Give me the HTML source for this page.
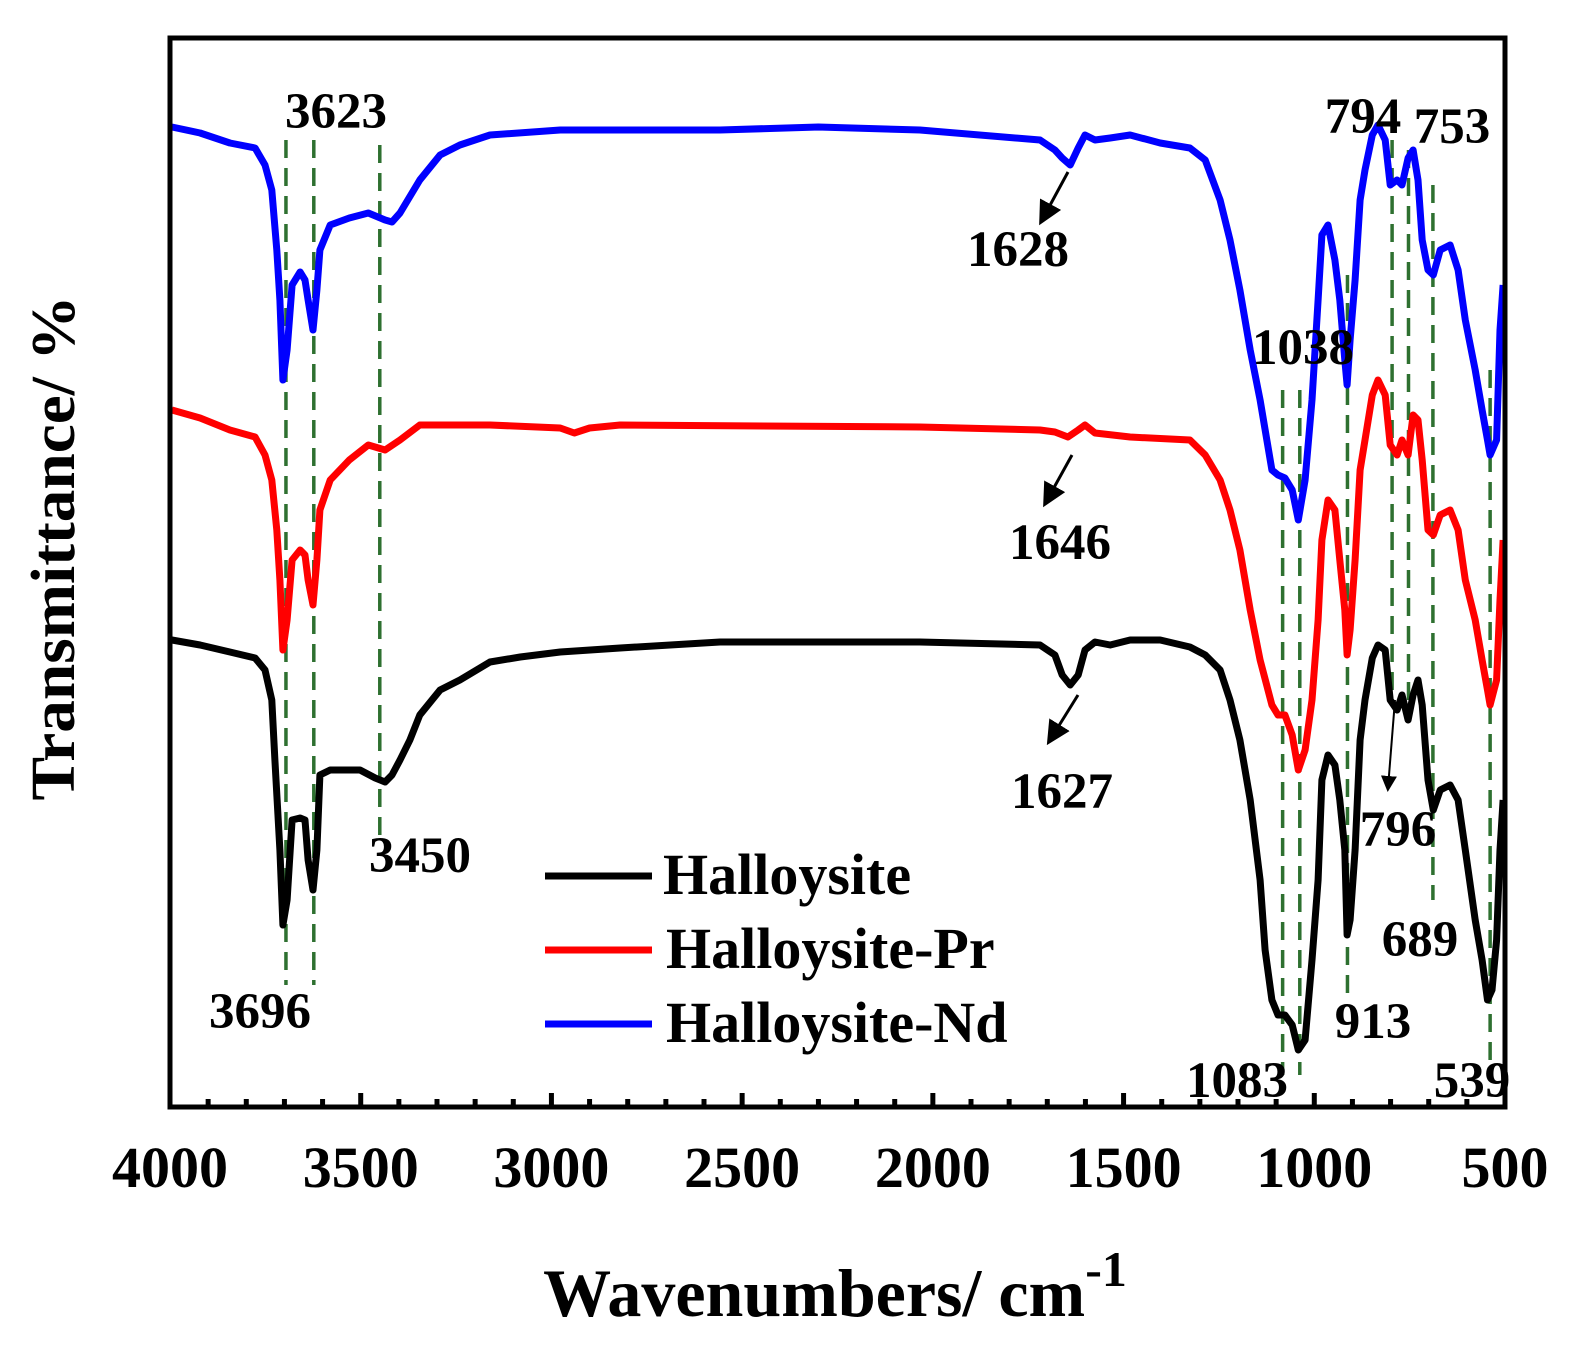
<!DOCTYPE html>
<html><head><meta charset="utf-8"><style>
html,body{margin:0;padding:0;background:#fff;}
svg{display:block;font-family:"Liberation Serif",serif;font-weight:bold;}
</style></head><body>
<svg id="chart" width="1593" height="1371" viewBox="0 0 1593 1371" xmlns="http://www.w3.org/2000/svg">
<defs><marker id="ah" markerWidth="8" markerHeight="8" refX="6" refY="4" orient="auto"><path d="M0,0 L8,4 L0,8 z" fill="#000"/></marker></defs>
<g id="guides"></g>
<g id="series"></g>
<rect x="170" y="38" width="1335" height="1069" fill="none" stroke="#000" stroke-width="5"/>
<g id="ticks"></g>
<g id="annot" font-size="51"></g>
<text transform="translate(74,548) rotate(-90)" text-anchor="middle" font-size="62" textLength="505" lengthAdjust="spacingAndGlyphs">Transmittance/ %</text>
<text x="835" y="1316" text-anchor="middle" font-size="68">Wavenumbers/ cm<tspan dy="-30" font-size="50">-1</tspan></text>
<g font-size="58">
<line x1="545" y1="876" x2="652" y2="876" stroke="#000" stroke-width="7"/>
<text x="663" y="894">Halloysite</text>
<line x1="545" y1="950" x2="652" y2="950" stroke="#ff0000" stroke-width="7"/>
<text x="666" y="968">Halloysite-Pr</text>
<line x1="545" y1="1024" x2="652" y2="1024" stroke="#0000ff" stroke-width="7"/>
<text x="666" y="1042">Halloysite-Nd</text>
</g>
</svg>
<script>
const blackW=[3995,3921,3843,3777,3751,3733,3725,3712,3704,3693,3680,3659,3646,3638,3625,3615,3607,3580,3502,3462,3436,3418,3397,3371,3345,3292,3240,3161,3082,2977,2820,2558,2034,1719,1680,1661,1640,1619,1601,1575,1535,1483,1404,1326,1286,1247,1221,1195,1168,1142,1129,1111,1095,1077,1058,1042,1024,1006,990,980,964,946,933,920,914,906,893,880,867,848,833,814,801,783,770,754,741,728,717,702,688,670,644,623,604,578,560,546,534,522,513,505];
const blackT=[467,462,455,449,437,407,347,257,182,207,287,289,287,247,217,257,332,337,337,329,325,332,347,367,392,417,427,445,450,455,459,465,465,462,452,432,422,432,457,465,462,467,467,460,452,437,407,367,307,227,157,107,92,92,82,57,67,147,227,327,352,342,307,257,172,187,257,367,407,449,462,457,407,397,412,387,412,427,402,327,297,317,322,307,257,187,147,107,117,167,257,307];
const redW=[3995,3921,3843,3777,3751,3733,3720,3712,3704,3693,3680,3659,3646,3638,3625,3615,3607,3580,3530,3480,3436,3397,3345,3161,2977,2940,2900,2820,2034,1719,1680,1646,1619,1601,1575,1483,1326,1286,1247,1221,1195,1168,1142,1111,1095,1077,1058,1042,1024,1006,990,980,964,946,933,920,914,906,893,880,867,848,833,814,801,783,770,754,741,728,717,702,688,670,644,623,604,578,560,546,539,522,513,505];
const redT=[697,689,677,670,652,627,577,527,457,487,547,557,552,527,502,547,597,627,647,662,657,667,682,682,679,674,679,682,680,677,675,670,677,682,674,670,667,652,627,597,557,497,447,402,392,392,372,337,357,407,487,567,607,597,547,497,452,477,547,637,667,712,727,712,662,652,667,652,692,687,647,577,572,592,597,577,527,487,447,417,402,427,507,567];
const blueW=[3995,3921,3843,3777,3751,3733,3720,3712,3704,3693,3680,3659,3646,3638,3625,3615,3607,3580,3530,3480,3436,3418,3397,3345,3292,3240,3161,2977,2558,2300,2034,1719,1680,1661,1640,1619,1601,1575,1535,1483,1404,1326,1286,1247,1221,1195,1168,1142,1111,1095,1077,1058,1042,1024,1006,990,980,964,946,933,920,914,906,893,880,867,848,833,814,801,783,770,754,741,728,717,702,688,670,644,623,604,578,560,546,539,522,513,505];
const blueT=[980,974,964,959,942,917,857,807,727,757,822,835,827,807,777,817,857,882,889,894,887,885,894,927,952,962,972,977,977,980,977,967,957,949,942,959,972,967,969,972,964,959,947,907,867,817,757,707,637,632,629,617,587,627,707,807,872,882,847,807,747,722,767,827,907,937,972,982,967,922,927,922,949,957,927,867,837,832,857,862,837,787,737,697,667,652,667,777,822];
const xTicks=[4000,3500,3000,2500,2000,1500,1000,500];
const peakW=[3696,3623,3450,1083,1038,913,796,753,689,539];
const peakTop=[140,140,145,390,390,275,140,150,185,370];
const peakBot=[985,985,840,1075,1075,1000,700,720,900,1075];
const labels=[["3623",336,128],["1628",1018,266],["1038",1303,364],["794",1363,133],["753",1452,143],["1646",1060,559],["1627",1062,808],["3450",420,872],["3696",260,1028],["796",1398,846],["689",1420,956],["913",1373,1038],["1083",1237,1097],["539",1472,1097]];
const X=w=>170+(4000-w)*(1335/3500);
const Y=t=>1107-t;
const NS="http://www.w3.org/2000/svg";
function mk(tag,attrs,parent){const e=document.createElementNS(NS,tag);for(const k in attrs)e.setAttribute(k,attrs[k]);parent.appendChild(e);return e;}
const G=document.getElementById('guides');
peakW.forEach((w,i)=>{
 const l=mk('line',{x1:X(w),x2:X(w),y1:peakTop[i],y2:peakBot[i],stroke:'#2e7030','stroke-width':3.5,'stroke-dasharray':'18,10'},G);
 
 
});
const S=document.getElementById('series');
[[blackW,blackT,'#000','halloysite'],[redW,redT,'#ff0000','halloysite-pr'],[blueW,blueT,'#0000ff','halloysite-nd']].forEach(([ws,ts,c,n])=>{
 const d=ws.map((w,i)=>(i?'L':'M')+X(w).toFixed(1)+','+Y(ts[i]).toFixed(1)).join(' ');
 const p=mk('path',{d:d,fill:'none',stroke:c,'stroke-width':7,'stroke-linejoin':'round'},S);
 
 
});
const T=document.getElementById('ticks');
for(let w=4000;w>=500;w-=100){
 const major=w%500===0;
 const t=mk('line',{x1:X(w),x2:X(w),y1:1107,y2:1107-(major?14:8),stroke:'#000','stroke-width':5},T);
 
 
}
xTicks.forEach(w=>{
 const t=mk('text',{x:X(w),y:1187,'text-anchor':'middle','font-size':58},T);
 t.textContent=w;
 
 
});
const A=document.getElementById('annot');
labels.forEach(([s,x,y])=>{
 const t=mk('text',{x:x,y:y,'text-anchor':'middle'},A);
 t.textContent=s;
 
 
});
[[1068,172,1042,220,3],[1072,455,1046,502,3],[1078,695,1050,740,3],[1395,700,1388,788,2]].forEach(([x1,y1,x2,y2,sw])=>{
 const a=mk('line',{x1:x1,y1:y1,x2:x2,y2:y2,stroke:'#000','stroke-width':sw,'marker-end':'url(#ah)'},A);
 
 
});
</script>
</body></html>
